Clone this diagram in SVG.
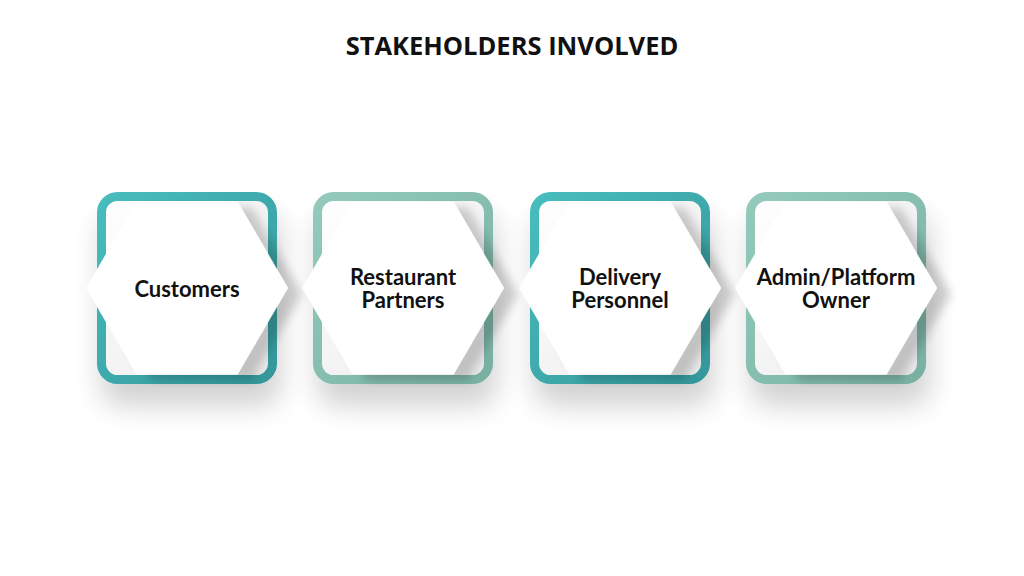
<svg xmlns="http://www.w3.org/2000/svg" width="1024" height="576" viewBox="0 0 1024 576">
<defs>
<linearGradient id="teal" x1="0" y1="0" x2="1" y2="1">
<stop offset="0" stop-color="#48bdbd"/>
<stop offset="1" stop-color="#34979a"/>
</linearGradient>
<linearGradient id="sage" x1="0" y1="0" x2="1" y2="1">
<stop offset="0" stop-color="#93cabb"/>
<stop offset="1" stop-color="#78b1a2"/>
</linearGradient>
<linearGradient id="inner" x1="0" y1="0" x2="1" y2="1">
<stop offset="0" stop-color="#ffffff"/>
<stop offset="1" stop-color="#e8e8e8"/>
</linearGradient>
<filter id="boxShadow" x="-30%" y="-30%" width="160%" height="170%">
<feGaussianBlur in="SourceAlpha" stdDeviation="14"/>
<feOffset dx="4" dy="22" result="b"/>
<feComponentTransfer><feFuncA type="linear" slope="0.18"/></feComponentTransfer>
<feMerge><feMergeNode/><feMergeNode in="SourceGraphic"/></feMerge>
</filter>
<filter id="hexShadow" x="-30%" y="-30%" width="170%" height="160%">
<feGaussianBlur in="SourceAlpha" stdDeviation="5"/>
<feOffset dx="14" dy="6" result="b"/>
<feComponentTransfer><feFuncA type="linear" slope="0.18"/></feComponentTransfer>
<feMerge><feMergeNode/><feMergeNode in="SourceGraphic"/></feMerge>
</filter>
<polygon id="hex" points="-101,0 -50.5,-86.5 50.5,-86.5 101,0 50.5,86.5 -50.5,86.5"/>
</defs>
<style>
.title{font-family:"Open Sans","Noto Sans","Liberation Sans",sans-serif;font-weight:700;font-size:25.5px;fill:#111;text-anchor:middle}
.lbl{font-family:Lato,"Noto Sans","Liberation Sans",sans-serif;font-weight:700;font-size:22px;fill:#111;text-anchor:middle}
.frame{fill:url(#inner);stroke-width:9;filter:url(#boxShadow)}
.hx{fill:#ffffff;filter:url(#hexShadow)}
</style>
<rect width="1024" height="576" fill="#ffffff"/>
<text class="title" x="512" y="55">STAKEHOLDERS INVOLVED</text>
<g id="connectors"/>
<g id="node-customers">
<rect class="frame" x="101.5" y="196.5" width="171" height="183" rx="16" stroke="url(#teal)"/>
<use href="#hex" class="hx" transform="translate(187,288)"/>
<text class="lbl" x="187" y="297">Customers</text>
</g>
<g id="node-restaurant">
<rect class="frame" x="317.5" y="196.5" width="171" height="183" rx="16" stroke="url(#sage)"/>
<use href="#hex" class="hx" transform="translate(403,288)"/>
<text class="lbl" x="403" y="285">Restaurant</text>
<text class="lbl" x="403" y="308">Partners</text>
</g>
<g id="node-delivery">
<rect class="frame" x="534.5" y="196.5" width="171" height="183" rx="16" stroke="url(#teal)"/>
<use href="#hex" class="hx" transform="translate(620,288)"/>
<text class="lbl" x="620" y="285">Delivery</text>
<text class="lbl" x="620" y="308">Personnel</text>
</g>
<g id="node-admin">
<rect class="frame" x="750.5" y="196.5" width="171" height="183" rx="16" stroke="url(#sage)"/>
<use href="#hex" class="hx" transform="translate(836,288)"/>
<text class="lbl" x="836" y="285">Admin/Platform</text>
<text class="lbl" x="836" y="308">Owner</text>
</g>
</svg>
